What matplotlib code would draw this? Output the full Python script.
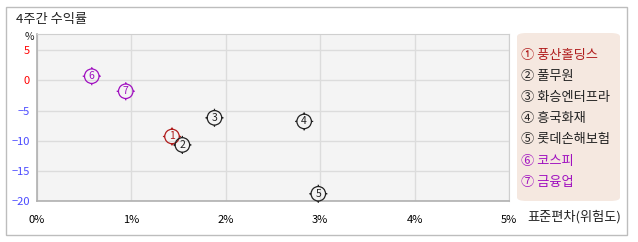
import matplotlib.pyplot as plt
import numpy as np
from matplotlib.path import Path
from matplotlib.patches import FancyBboxPatch, Rectangle

plt.rcParams['font.family'] = ['Noto Sans CJK KR', 'DejaVu Sans']

# data
names = ['풍산홀딩스', '풀무원', '화승엔터프라', '흥국화재', '롯데손해보험', '코스피', '금융업']
marks = ['①', '②', '③', '④', '⑤', '⑥', '⑦']
digits = ['1', '2', '3', '4', '5', '6', '7']
risk = [1.43, 1.54, 1.88, 2.83, 2.98, 0.58, 0.94]      # std dev, %
ret4w = [-9.3, -10.7, -6.2, -6.8, -18.8, 0.7, -1.8]    # 4 week return, %
colors = ['#b01c1c', '#222222', '#222222', '#222222', '#222222', '#a010c0', '#a010c0']
xticks = [0, 1, 2, 3, 4, 5]
yticks = [5, 0, -5, -10, -15, -20]

fig = plt.figure(figsize=(6.38, 2.42), dpi=100)
fig.patch.set_facecolor('white')

# outer frame
fig.patches.append(Rectangle((6 / 638, 1 - 235 / 242), 621 / 638, 228 / 242,
                             transform=fig.transFigure, fill=False,
                             edgecolor='#bdbdbd', lw=1))

ax = fig.add_axes([37 / 638, 41 / 242, 472 / 638, 167 / 242])
ax.set_facecolor('#f4f4f4')
ax.set_xlim(0, 5)
ax.set_ylim(-20, 7.7)
ax.set_xticks(xticks)
ax.set_yticks(yticks)
ax.set_xticklabels([f'{t}%' for t in xticks])
ax.set_yticklabels([f'{t}' if t >= 0 else f'\u2212{-t}' for t in yticks])
for lab, t in zip(ax.get_yticklabels(), yticks):
    lab.set_color('#ff0000' if t >= 0 else '#4a4aff')
ax.tick_params(length=0, labelsize=8)
ax.tick_params(axis='x', pad=10)
ax.tick_params(axis='y', pad=5)
ax.grid(True, color='#dcdcdc', lw=1)
ax.set_axisbelow(True)
for s in ['top', 'right']:
    ax.spines[s].set_color('#cfcfcf')
for s in ['left', 'bottom']:
    ax.spines[s].set_color('#b0b0b0')
    ax.spines[s].set_linewidth(1.2)

# circle marker with small ticks around it
r = 0.8
circ = Path.circle((0, 0), r)
tick_v = [(0, r), (0, 1), (0, -r), (0, -1), (r, 0), (1, 0), (-r, 0), (-1, 0)]
tick_c = [Path.MOVETO, Path.LINETO] * 4
mk = Path.make_compound_path(circ, Path(tick_v, tick_c))

ax.scatter(risk, ret4w, s=170, marker=mk, facecolors='none',
           edgecolors=colors, linewidths=0.9, zorder=3, clip_on=False)
for x, y, d, c in zip(risk, ret4w, digits, colors):
    ax.annotate(d, (x, y), ha='center', va='center', fontsize=7.5, color=c,
                zorder=4, annotation_clip=False)

fig.text(16 / 638, 1 - 20 / 242, '4주간 수익률', fontsize=9.5, va='center', color='#222222')
fig.text(25 / 638, 1 - 37 / 242, '%', fontsize=7.5, va='center', color='#222222')
fig.text(527 / 638, 1 - 217 / 242, '표준편차(위험도)', fontsize=9.5, va='center', color='#222222')

# legend box
fig.patches.append(FancyBboxPatch((517 / 638, 1 - 201 / 242), 103 / 638, 168 / 242,
                                  boxstyle='round,pad=0,rounding_size=0.015',
                                  transform=fig.transFigure, facecolor='#f5e8e0',
                                  edgecolor='none'))
for i, (m, n, c) in enumerate(zip(marks, names, colors)):
    fig.text(521 / 638, 1 - (55 + i * 21.2) / 242, f'{m} {n}', fontsize=9.5,
             va='center', color=c)

fig.savefig('out.png', dpi=100)
